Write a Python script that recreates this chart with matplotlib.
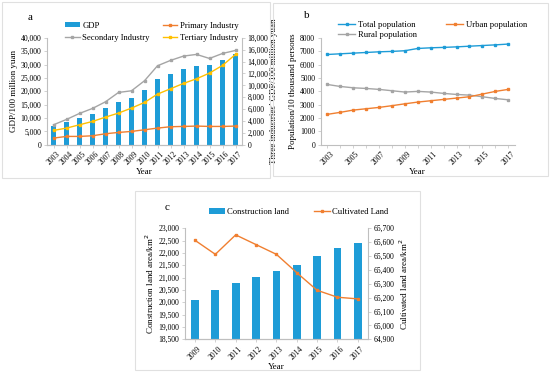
import numpy as np
import matplotlib
matplotlib.use('Agg')
import matplotlib.pyplot as plt
from matplotlib.patches import Rectangle

plt.rcParams['font.family'] = ['Liberation Serif', 'DejaVu Serif']

# panel a data
years_a = ['2003', '2004', '2005', '2006', '2007', '2008', '2009', '2010',
           '2011', '2012', '2013', '2014', '2015', '2016', '2017']
gdp = [7000, 8350, 9970, 11590, 13580, 15950, 17320, 20310,
       24550, 26540, 28290, 29280, 29660, 31530, 33890]
primary = [1120, 1400, 1400, 1510, 1850, 2070, 2240, 2520,
           2800, 3030, 3080, 3140, 3080, 3080, 3140]
secondary = [3360, 4260, 5270, 6110, 7230, 8800, 9080, 10770,
             13290, 14190, 14920, 15200, 14520, 15360, 15870]
tertiary = [2410, 2800, 3360, 3920, 4650, 5330, 6170, 7120,
            8520, 9420, 10320, 11100, 12060, 13350, 15200]

# panel b data
total_pop = [6750, 6800, 6850, 6900, 6950, 6980, 7030, 7200,
             7250, 7280, 7320, 7370, 7420, 7470, 7530]
urban_pop = [2270, 2420, 2590, 2690, 2790, 2920, 3060, 3190,
             3290, 3390, 3490, 3590, 3790, 3990, 4140]
rural_pop = [4510, 4360, 4260, 4210, 4140, 4040, 3940, 3990,
             3940, 3840, 3760, 3710, 3590, 3460, 3360]

# panel c data
years_c = ['2009', '2010', '2011', '2012', '2013', '2014', '2015', '2016', '2017']
construction = [20100, 20490, 20780, 21030, 21250, 21510, 21880, 22190, 22400]
cultivated = [65613, 65512, 65652, 65582, 65512, 65380, 65253, 65203, 65191]

blue = '#1E9CD7'
orange = '#F07F30'
grey = '#A5A5A5'
yellow = '#FFC000'
spine_c = '#BFBFBF'
fs_tick = 5.5
fs_lab = 6.5
fs_leg = 6.2


def style_axis(ax, right=False):
    for s in ['top', 'right', 'left', 'bottom']:
        ax.spines[s].set_visible(False)
    ax.spines['bottom'].set_visible(True)
    ax.spines['bottom'].set_color(spine_c)
    side = 'right' if right else 'left'
    ax.spines[side].set_visible(True)
    ax.spines[side].set_color(spine_c)
    ax.tick_params(axis='both', labelsize=fs_tick, length=2, width=0.5, color=spine_c, pad=2)


def fig_pt(px, py):
    return (px / 550, 1 - py / 374)


fig = plt.figure(figsize=(5.5, 3.74), dpi=100)

# panel borders
for (x0, y0, x1, y1) in [(2, 2, 270, 178), (273, 3, 548, 176), (135, 191, 420, 370)]:
    fig.patches.append(Rectangle((x0 / 550, 1 - y1 / 374), (x1 - x0) / 550, (y1 - y0) / 374,
                                 transform=fig.transFigure, fill=False, edgecolor='#E0E0E0', linewidth=0.8))

# ---------- panel a ----------
ax1 = fig.add_axes([0.0855, 0.613, 0.3545, 0.286])
x = np.arange(len(years_a))
b1 = ax1.bar(x, gdp, width=0.35, color=blue, label='GDP')
ax1.set_xlim(-0.5, 14.5)
ax1.set_ylim(0, 40000)
ax1.set_yticks(np.arange(0, 40001, 5000))
ax1.set_yticklabels(['0' if v == 0 else f'{v:,}' for v in range(0, 40001, 5000)])
ax1.set_xticks(x)
ax1.set_xticklabels(years_a, rotation=45)
style_axis(ax1)
ax1.set_ylabel('GDP/100 million yuan', fontsize=fs_lab, labelpad=2)
ax1.set_xlabel('Year', fontsize=fs_lab, labelpad=1)

ax2 = ax1.twinx()
l1, = ax2.plot(x, primary, color=orange, marker='s', markersize=2, linewidth=1, label='Primary Industry')
l2, = ax2.plot(x, secondary, color=grey, marker='s', markersize=2, linewidth=1, label='Secondary Industry')
l3, = ax2.plot(x, tertiary, color=yellow, marker='s', markersize=2, linewidth=1, label='Tertiary Industry')
ax2.set_ylim(0, 18000)
ax2.set_yticks(np.arange(0, 18001, 2000))
ax2.set_yticklabels(['0' if v == 0 else f'{v:,}' for v in range(0, 18001, 2000)])
style_axis(ax2, right=True)
ax2.set_ylabel('Three industries\u2019 GDP/100 million yuan', fontsize=fs_lab, labelpad=1)
fig.legend([b1, l2, l1, l3], ['GDP', 'Secondary Industry', 'Primary Industry', 'Tertiary Industry'],
           ncol=2, loc='upper left', bbox_to_anchor=fig_pt(65, 21.5), frameon=False, fontsize=fs_leg,
           handlelength=1.7, handleheight=0.6, handletextpad=0.3, labelspacing=0.5,
           borderpad=0, borderaxespad=0, columnspacing=1.5)
fig.text(30 / 550, 1 - 17 / 374, 'a', fontsize=8, ha='center', va='center')

# ---------- panel b ----------
ax3 = fig.add_axes([0.583, 0.613, 0.353, 0.286])
p1, = ax3.plot(x, total_pop, color=blue, marker='s', markersize=2, linewidth=1)
p2, = ax3.plot(x, rural_pop, color=grey, marker='s', markersize=2, linewidth=1)
p3, = ax3.plot(x, urban_pop, color=orange, marker='s', markersize=2, linewidth=1)
ax3.set_xlim(-0.5, 14.5)
ax3.set_ylim(0, 8000)
ax3.set_yticks(np.arange(0, 8001, 1000))
ax3.set_xticks(x)
ax3.set_xticklabels([y if i % 2 == 0 else '' for i, y in enumerate(years_a)], rotation=45)
style_axis(ax3)
ax3.set_ylabel('Population/10 thousand persons', fontsize=fs_lab, labelpad=2)
ax3.set_xlabel('Year', fontsize=fs_lab, labelpad=1)
fig.legend([p1, p2, p3], ['Total population', 'Rural population', 'Urban population'],
           ncol=2, loc='upper left', bbox_to_anchor=fig_pt(338, 20.5), frameon=False, fontsize=fs_leg,
           handlelength=2.0, handletextpad=0.3, labelspacing=0.33,
           borderpad=0, borderaxespad=0, columnspacing=3.4)
fig.text(307 / 550, 1 - 16 / 374, 'b', fontsize=8, ha='center', va='center')

# ---------- panel c ----------
ax4 = fig.add_axes([0.336, 0.0928, 0.333, 0.297])
xc = np.arange(len(years_c))
b2 = ax4.bar(xc, construction, width=0.38, color=blue)
ax4.set_xlim(-0.5, 8.5)
ax4.set_ylim(18500, 23000)
ax4.set_yticks(np.arange(18500, 23001, 500))
ax4.set_yticklabels([f'{v:,}' for v in range(18500, 23001, 500)])
ax4.set_xticks(xc)
ax4.set_xticklabels(years_c, rotation=45)
style_axis(ax4)
ax4.set_ylabel('Construction land area/km$^2$', fontsize=fs_lab, labelpad=2)
ax4.set_xlabel('Year', fontsize=fs_lab, labelpad=1)

ax5 = ax4.twinx()
l4, = ax5.plot(xc, cultivated, color=orange, marker='s', markersize=2, linewidth=1)
ax5.set_ylim(64900, 65700)
ax5.set_yticks(np.arange(64900, 65701, 100))
ax5.set_yticklabels([f'{v:,}' for v in range(64900, 65701, 100)])
style_axis(ax5, right=True)
ax5.set_ylabel('Cultivated land area/km$^2$', fontsize=fs_lab, labelpad=2)
fig.legend([b2, l4], ['Construction land', 'Cultivated Land'], ncol=2, loc='upper left',
           bbox_to_anchor=fig_pt(209, 208), frameon=False, fontsize=fs_leg,
           handlelength=1.8, handleheight=0.6, handletextpad=0.3,
           borderpad=0, borderaxespad=0, columnspacing=2.9)
fig.text(167 / 550, 1 - 207 / 374, 'c', fontsize=8, ha='center', va='center')

fig.savefig('out.png', dpi=100)
